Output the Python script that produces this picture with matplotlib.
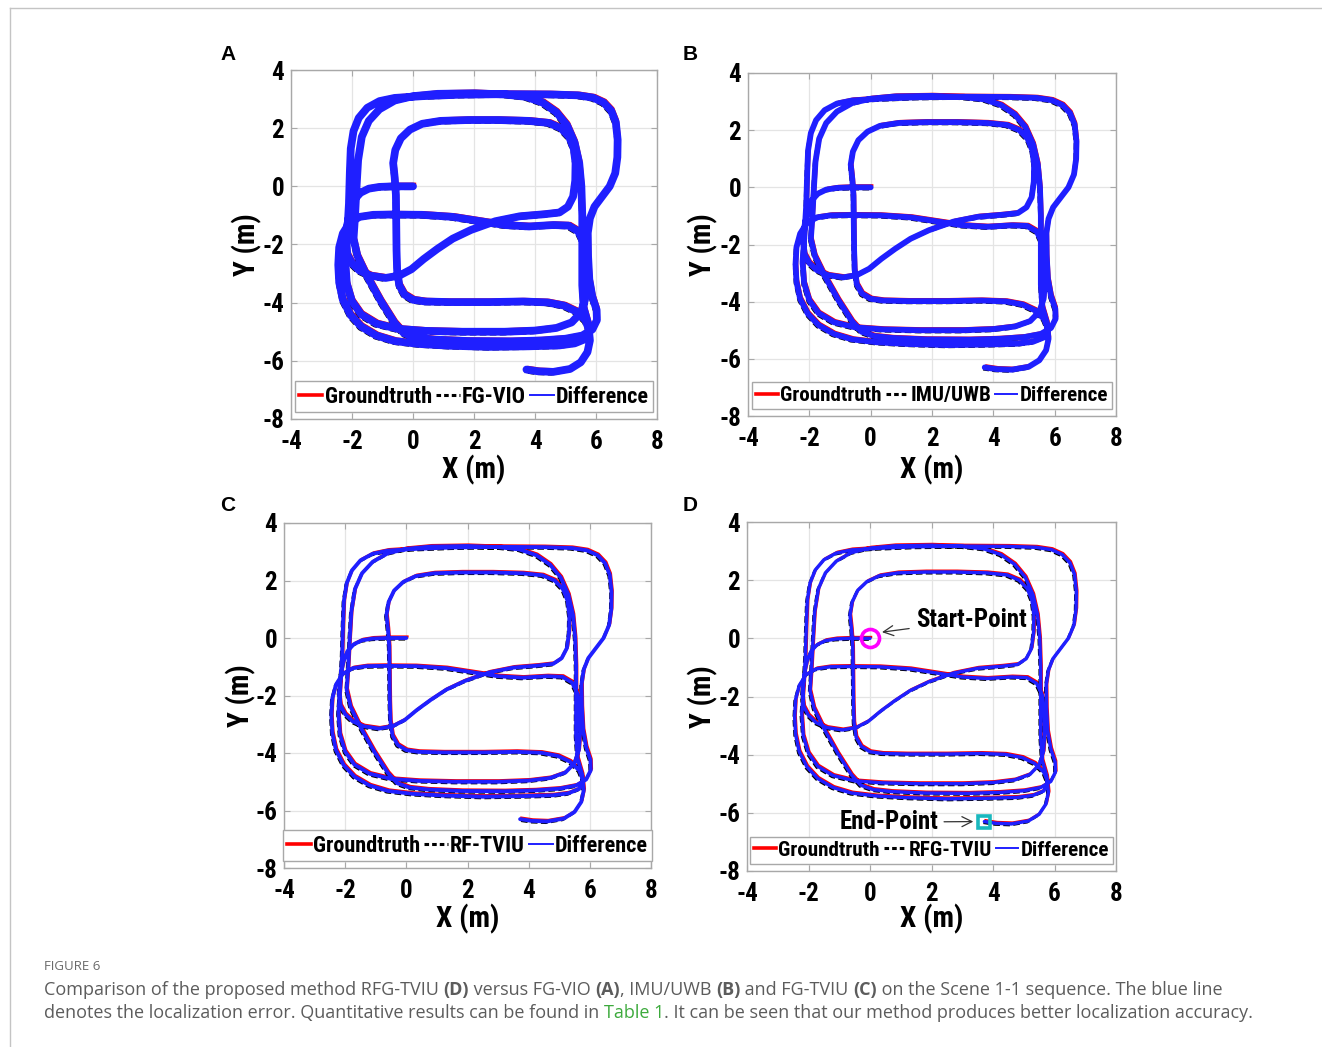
import matplotlib
matplotlib.use('Agg')
import matplotlib.pyplot as plt
from matplotlib.lines import Line2D
from matplotlib import transforms, font_manager

plt.rcParams['axes.unicode_minus'] = False
W, H = 1322, 1047

gt_xy = [(0, 0), (-0.6, 0), (-1.1, -0.02), (-1.45, -0.08), (-1.72, -0.22), (-1.92, -0.45), (-2.05, -0.8),
         (-2.15, -1.3), (-2.2, -1.9), (-2.15, -2.35), (-2.0, -2.65), (-1.75, -2.9), (-1.4, -3.07),
         (-0.9, -3.15), (-0.45, -3.07), (-0.05, -2.85), (0.35, -2.5), (0.8, -2.15), (1.3, -1.8),
         (1.9, -1.5), (2.7, -1.2), (3.5, -1.03), (4.3, -0.96), (4.8, -0.9), (5.08, -0.7), (5.25, -0.35),
         (5.32, 0.2), (5.33, 0.8), (5.27, 1.3), (5.12, 1.7), (4.85, 2.0), (4.45, 2.18), (3.8, 2.25),
         (2.8, 2.28), (1.8, 2.28), (0.9, 2.25), (0.3, 2.15), (-0.1, 1.95), (-0.4, 1.65), (-0.58, 1.25),
         (-0.65, 0.8), (-0.6, 0.3), (-0.56, -0.3), (-0.55, -1.2), (-0.54, -2.2), (-0.52, -2.9),
         (-0.45, -3.4), (-0.28, -3.72), (0.0, -3.9), (0.4, -3.96), (1.2, -3.98), (2.5, -3.98),
         (3.6, -3.96), (4.4, -3.99), (4.95, -4.1), (5.35, -4.3), (5.65, -4.6), (5.78, -4.95),
         (5.65, -5.25), (5.3, -5.4), (4.8, -5.47), (3.8, -5.5), (2.5, -5.52), (1.2, -5.48),
         (0.2, -5.42), (-0.6, -5.32), (-1.2, -5.13), (-1.7, -4.82), (-2.05, -4.42), (-2.3, -3.9),
         (-2.42, -3.3), (-2.45, -2.7), (-2.42, -2.1), (-2.3, -1.62), (-2.08, -1.25), (-1.75, -1.05),
         (-1.3, -0.98), (-0.7, -0.97), (0.3, -0.98), (1.3, -1.05), (2.2, -1.2), (3.0, -1.33),
         (3.8, -1.38), (4.6, -1.33), (5.1, -1.35), (5.42, -1.55), (5.6, -1.95), (5.66, -2.6),
         (5.68, -3.3), (5.64, -3.9), (5.5, -4.35), (5.2, -4.68), (4.7, -4.87), (4.0, -4.96),
         (3.0, -5.0), (1.6, -5.0), (0.4, -4.97), (-0.5, -4.9), (-1.2, -4.72), (-1.7, -4.4),
         (-2.0, -3.95), (-2.17, -3.35), (-2.22, -2.6), (-2.16, -1.7), (-2.1, -0.6), (-2.07, 0.5),
         (-2.04, 1.3), (-1.95, 1.9), (-1.78, 2.35), (-1.5, 2.7), (-1.1, 2.93), (-0.6, 3.04),
         (0.3, 3.1), (1.5, 3.15), (3.0, 3.17), (4.5, 3.16), (5.4, 3.13), (5.9, 3.05), (6.25, 2.88),
         (6.5, 2.6), (6.65, 2.2), (6.71, 1.6), (6.7, 1.0), (6.63, 0.45), (6.45, 0.0), (6.2, -0.35),
         (5.95, -0.7), (5.8, -1.1), (5.73, -1.6), (5.74, -2.4), (5.78, -3.2), (5.88, -3.8),
         (6.02, -4.25), (6.03, -4.6), (5.88, -4.92), (5.55, -5.13), (5.0, -5.24), (4.2, -5.3),
         (3.2, -5.33), (1.8, -5.32), (0.7, -5.27), (0.1, -5.2), (-0.3, -5.05), (-0.6, -4.7),
         (-1.05, -3.95), (-1.5, -3.1), (-1.82, -2.4), (-1.95, -1.8), (-1.9, -1.0), (-1.85, 0.0),
         (-1.8, 0.9), (-1.68, 1.7), (-1.45, 2.25), (-1.1, 2.65), (-0.6, 2.95), (0.0, 3.1),
         (0.8, 3.18), (2.0, 3.2), (3.0, 3.16), (3.7, 3.08), (4.25, 2.88), (4.7, 2.55), (5.05, 2.1),
         (5.3, 1.5), (5.45, 0.8), (5.52, 0.0), (5.55, -1.0), (5.55, -2.2), (5.55, -3.4), (5.6, -4.2),
         (5.75, -4.75), (5.8, -5.3), (5.72, -5.7), (5.5, -6.05), (5.15, -6.28), (4.6, -6.38),
         (4.1, -6.36), (3.72, -6.3)]
gt_x = [p[0] for p in gt_xy]
gt_y = [p[1] for p in gt_xy]

panels = ['A', 'B', 'C', 'D']
methods = ['FG-VIO', 'IMU/UWB', 'RF-TVIU', 'RFG-TVIU']
x_ticks = [-4, -2, 0, 2, 4, 6, 8]
y_ticks = [-8, -6, -4, -2, 0, 2, 4]

# axes rectangles in pixels (left, top, right, bottom)
boxes = [(291, 70, 657, 419), (748, 73, 1116, 416), (284, 523, 651, 868), (747, 522, 1116, 871)]
letter_pos = [(228, 54), (690, 54), (228, 505), (690, 505)]
xlabel_y = [470, 470, 919, 919]
ylabel_x = [247, 703, 241, 703]
band_w = [5.6, 4.2, 2.8, 2.5]
shift = [2.6, 2.0, 1.5, 1.4]
legend_size = [16, 15.2, 16, 15.2]

# pick a narrow bold face for the MATLAB-like labels
names = {(f.name, f.stretch) for f in font_manager.fontManager.ttflist}
fam_names = {n for n, s in names}
if 'Liberation Sans Narrow' in fam_names:
    NARROW, STRETCH, FS = ['Liberation Sans Narrow', 'DejaVu Sans'], 'normal', 1.0
elif 'Roboto Condensed' in fam_names:
    NARROW, STRETCH, FS = ['Roboto Condensed', 'DejaVu Sans'], 'normal', 1.0
elif ('DejaVu Sans', 'condensed') in names:
    NARROW, STRETCH, FS = ['DejaVu Sans'], 'condensed', 0.92
else:
    NARROW, STRETCH, FS = ['Liberation Sans', 'DejaVu Sans'], 'normal', 0.86
NK = dict(family=NARROW, fontstretch=STRETCH, fontweight='bold')
GRAYAX = '#a8a8a8'
BLUE = '#1f1fff'

fig = plt.figure(figsize=(W / 100, H / 100), dpi=100)

for i, p in enumerate(panels):
    l, t, r, b = boxes[i]
    ax = fig.add_axes([l / W, 1 - b / H, (r - l) / W, (b - t) / H])
    ax.set_xlim(-4, 8)
    ax.set_ylim(-8, 4)
    ax.set_xticks(x_ticks)
    ax.set_yticks(y_ticks)
    ax.grid(True, color='#e4e4e4', lw=0.9)
    ax.set_axisbelow(True)
    for s in ax.spines.values():
        s.set_color(GRAYAX)
        s.set_linewidth(1.0)
    ax.tick_params(direction='in', length=4, color=GRAYAX, top=True, right=True,
                   labelsize=18 * FS)
    ax.tick_params(axis='x', pad=8)
    ax.tick_params(axis='y', pad=5)
    for lab in ax.get_xticklabels() + ax.get_yticklabels():
        lab.set_family(NARROW)
        lab.set_fontstretch(STRETCH)
        lab.set_fontweight('bold')

    d = shift[i]
    tr_red = transforms.offset_copy(ax.transData, fig=fig, x=d * 0.8, y=d, units='dots')
    tr_blk = transforms.offset_copy(ax.transData, fig=fig, x=-d * 0.8, y=-d, units='dots')
    ax.plot(gt_x, gt_y, color='red', lw=1.6, transform=tr_red, solid_joinstyle='round')
    ax.plot(gt_x, gt_y, color='black', lw=1.6, ls=(0, (3, 1.5)), transform=tr_blk)
    ax.plot(gt_x, gt_y, color=BLUE, lw=band_w[i], solid_joinstyle='round', solid_capstyle='round')

    ax.set_xlabel('X (m)', fontsize=21 * FS, **NK)
    ax.set_ylabel('Y (m)', fontsize=21 * FS, **NK)
    ax.xaxis.label.set_va('center')
    ax.yaxis.label.set_va('center')
    ax.xaxis.set_label_coords(0.5, -(xlabel_y[i] - b) / (b - t))
    ax.yaxis.set_label_coords((ylabel_x[i] - l) / (r - l), 0.5)

    handles = [Line2D([], [], color='red', lw=2.6),
               Line2D([], [], color='black', lw=2.2, ls=(0, (1.5, 1.0))),
               Line2D([], [], color=BLUE, lw=1.4)]
    leg = ax.legend(handles, ['Groundtruth', methods[i], 'Difference'], loc='lower center',
                    ncol=3, bbox_to_anchor=(0.5, 0.02), borderaxespad=0.0,
                    prop={'family': NARROW, 'stretch': STRETCH, 'weight': 'bold',
                          'size': legend_size[i] * FS},
                    handlelength=1.05, handletextpad=0.1, columnspacing=0.2,
                    borderpad=0.2, fancybox=False, framealpha=1, edgecolor=GRAYAX)
    leg.get_frame().set_linewidth(1.0)

    if p == 'D':
        ax.plot(gt_x[0], gt_y[0], 'o', ms=13, mfc='none', mec='#ff00ff', mew=2.6, zorder=5)
        ax.plot(gt_x[-1], gt_y[-1], 's', ms=9, mfc='none', mec='#1ab8be', mew=2.6, zorder=5)
        ax.annotate('Start-Point', xy=(0.3, 0.2), xytext=(3.3, 0.62), ha='center', va='center',
                    fontsize=18 * FS, **NK,
                    arrowprops=dict(arrowstyle='->', color='#333333', lw=0.9, shrinkA=3))
        ax.annotate('End-Point', xy=(3.45, -6.3), xytext=(0.62, -6.32), ha='center', va='center',
                    fontsize=18 * FS, **NK,
                    arrowprops=dict(arrowstyle='->', color='#333333', lw=0.9, shrinkA=2))

    fig.text(letter_pos[i][0] / W, 1 - letter_pos[i][1] / H, p, ha='center', va='center',
             family=['Liberation Sans', 'DejaVu Sans'], fontweight='bold', fontsize=15)

# outer frame of the figure page
fig.add_artist(Line2D([10 / W, 1], [1 - 8 / H, 1 - 8 / H], transform=fig.transFigure,
                      color='#c4c4c4', lw=1))
fig.add_artist(Line2D([10 / W, 10 / W], [0, 1 - 8 / H], transform=fig.transFigure,
                      color='#c4c4c4', lw=1))

# caption
CAP = ['Open Sans', 'DejaVu Sans']
GREY = '#5c5c5c'
ident = transforms.IdentityTransform()
renderer = fig.canvas.get_renderer()


def text_width(s, **kw):
    a = fig.text(0, 0, '|' + s + '|', transform=ident, **kw)
    b = fig.text(0, 0, '||', transform=ident, **kw)
    w = a.get_window_extent(renderer).width - b.get_window_extent(renderer).width
    a.remove()
    b.remove()
    return w


def caption_line(x, y, runs, size):
    for s, weight, color in runs:
        kw = dict(family=CAP, fontsize=size, fontweight=weight, color=color)
        fig.text(x, H - y, s, transform=ident, va='center', ha='left', **kw)
        x += text_width(s, **kw)


fig.text(44, H - 967, 'FIGURE 6', transform=ident, va='center', ha='left',
         family=CAP, fontsize=9.5, color='#6a6a6a')
cap_size = 13.0
caption_line(44, 990, [('Comparison of the proposed method RFG-TVIU ', 'normal', GREY),
                       ('(D)', 'bold', GREY),
                       (' versus FG-VIO ', 'normal', GREY),
                       ('(A)', 'bold', GREY),
                       (', IMU/UWB ', 'normal', GREY),
                       ('(B)', 'bold', GREY),
                       (' and FG-TVIU ', 'normal', GREY),
                       ('(C)', 'bold', GREY),
                       (' on the Scene 1-1 sequence. The blue line', 'normal', GREY)], cap_size)
caption_line(44, 1013, [('denotes the localization error. Quantitative results can be found in ', 'normal', GREY),
                        ('Table 1', 'normal', '#3daa3d'),
                        ('. It can be seen that our method produces better localization accuracy.', 'normal', GREY)],
             cap_size)

fig.savefig('out.png', dpi=100)
